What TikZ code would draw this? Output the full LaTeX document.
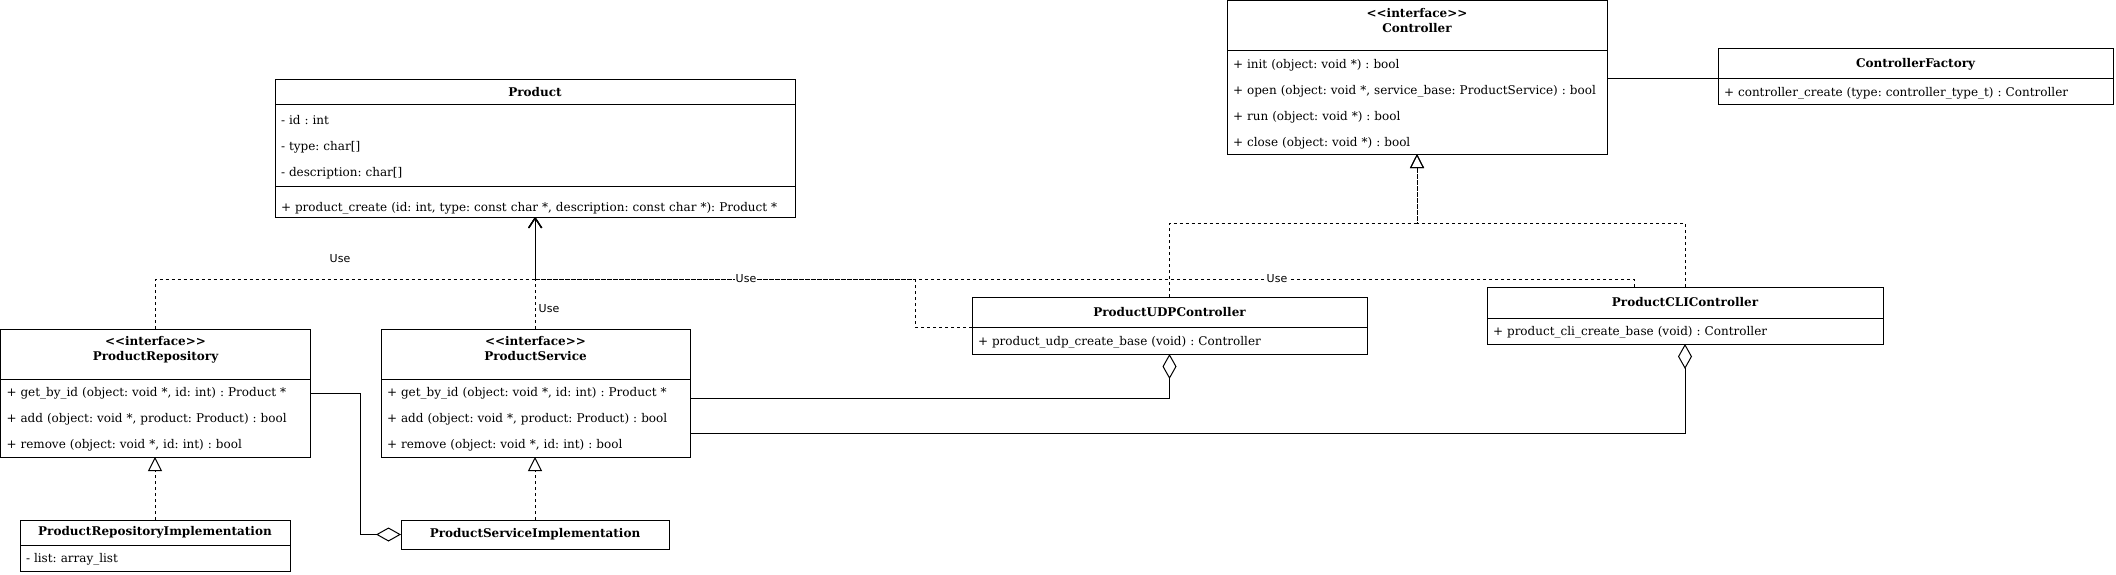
\documentclass[tikz,border=0pt]{standalone}
\usepackage{fontspec}
\setmainfont{DejaVu Serif}
\newfontfamily\edgefont{DejaVu Sans}
\usetikzlibrary{arrows.meta,calc,positioning}
\frenchspacing

\begin{document}
\begin{tikzpicture}[x=1pt, y=-1pt, line width=1pt,
    hdr/.style={rectangle, draw, anchor=north west, outer sep=0pt, inner sep=0pt, align=center, font=\fontsize{12}{15}\selectfont\bfseries},
    iface/.style={hdr, text depth=11pt},
    mbr/.style={rectangle, draw, anchor=north west, outer sep=0pt, inner xsep=6pt, inner ysep=0pt, align=left, text height=12pt, font=\fontsize{12}{26}\selectfont},
    usedep/.style={dash pattern=on 3pt off 3pt, -{Straight Barb[length=10pt, width=13pt]}},
    realize/.style={dash pattern=on 3pt off 3pt, -{Triangle[open, length=14pt, width=14pt]}},
    aggr/.style={-{Diamond[open, length=25pt, width=14pt]}},
    uselbl/.style={fill=white, inner sep=1pt, font=\edgefont\fontsize{11}{13}\selectfont}]

    \useasboundingbox (0,0) rectangle (2116,575);

    % classes
    \node[hdr, minimum width=520pt, minimum height=25pt] (prod) at (275,80) {Product};
    \node[mbr, text width=508pt, minimum height=81pt] (prodattr) at (prod.south west) {- id : int\\- type: char[]\\- description: char[]};
    \node[mbr, text width=508pt, minimum height=31pt, text height=22pt] (prodops) at (prodattr.south west) {+ product\_create (id: int, type: const char *, description: const char *): Product *};

    \node[iface, minimum width=310pt, minimum height=50pt] (repo) at (0.5,329) {<{}<interface>{}>\\ProductRepository};
    \node[mbr, text width=298pt, minimum height=78pt] (repoops) at (repo.south west) {+ get\_by\_id (object: void *, id: int) : Product *\\+ add (object: void *, product: Product) : bool\\+ remove (object: void *, id: int) : bool};

    \node[iface, minimum width=309pt, minimum height=50pt] (svc) at (381,329) {<{}<interface>{}>\\ProductService};
    \node[mbr, text width=297pt, minimum height=78pt] (svcops) at (svc.south west) {+ get\_by\_id (object: void *, id: int) : Product *\\+ add (object: void *, product: Product) : bool\\+ remove (object: void *, id: int) : bool};

    \node[hdr, minimum width=270pt, minimum height=25pt] (repoimpl) at (20,520) {ProductRepositoryImplementation};
    \node[mbr, text width=258pt, minimum height=26pt] (repoimplattr) at (repoimpl.south west) {- list: array\_list};

    \node[hdr, minimum width=268pt, minimum height=29pt] (svcimpl) at (401,520) {ProductServiceImplementation};

    \node[iface, minimum width=380pt, minimum height=50pt] (ctrl) at (1227,1) {<{}<interface>{}>\\Controller};
    \node[mbr, text width=368pt, minimum height=103pt] (ctrlops) at (ctrl.south west) {+ init (object: void *) : bool\\+ open (object: void *, service\_base: ProductService) : bool\\+ run (object: void *) : bool\\+ close (object: void *) : bool};

    \node[hdr, minimum width=395pt, minimum height=30pt] (fact) at (1718,49) {ControllerFactory};
    \node[mbr, text width=383pt, minimum height=26pt] (factops) at (fact.south west) {+ controller\_create (type: controller\_type\_t) : Controller};

    \node[hdr, minimum width=395pt, minimum height=30pt] (udp) at (972,297) {ProductUDPController};
    \node[mbr, text width=383pt, minimum height=27pt] (udpops) at (udp.south west) {+ product\_udp\_create\_base (void) : Controller};

    \node[hdr, minimum width=396pt, minimum height=31pt] (cli) at (1487,287) {ProductCLIController};
    \node[mbr, text width=384pt, minimum height=26pt] (cliops) at (cli.south west) {+ product\_cli\_create\_base (void) : Controller};

    \coordinate (usebus) at (0,279);
    \coordinate (ctrlbus) at (0,223);

    % dependencies on Product
    \draw[usedep] (repo.north) |- (usebus -| prodops.south) -- (prodops.south);
    \draw[usedep] (svc.north) -- (svc.north |- prodops.south);
    \draw[usedep] (udp.south west) -- ++(-57,0) |- (usebus -| prodops.south) -- (prodops.south);
    \draw[usedep] ($(cli.north)+(-51,0)$) |- (usebus -| prodops.south) -- (prodops.south);

    % realizations
    \draw[realize] (udp.north) |- (ctrlbus -| ctrlops.south) -- (ctrlops.south);
    \draw[realize] (cli.north) |- (ctrlbus -| ctrlops.south) -- (ctrlops.south);
    \draw[realize] (repoimpl.north) -- (repoimpl.north |- repoops.south);
    \draw[realize] (svcimpl.north) -- (svcimpl.north |- svcops.south);

    % aggregations
    \draw[aggr] ($(repoops.north east)+(0,14)$) -- ++(50,0) |- (svcimpl.west);
    \draw[aggr] ($(svcops.north east)+(0,19)$) -| (udpops.south);
    \draw[aggr] ($(svcops.north east)+(0,54)$) -| (cliops.south);

    \draw (fact.south west -| ctrlops.east) -- (fact.south west);

    \node[uselbl] (use1) at (340,259) {Use};
    \node[uselbl] (use2) at (549,309) {Use};
    \node[uselbl] (use3) at (746,279) {Use};
    \node[uselbl] (use4) at (1277,279) {Use};

\end{tikzpicture}
\end{document}
